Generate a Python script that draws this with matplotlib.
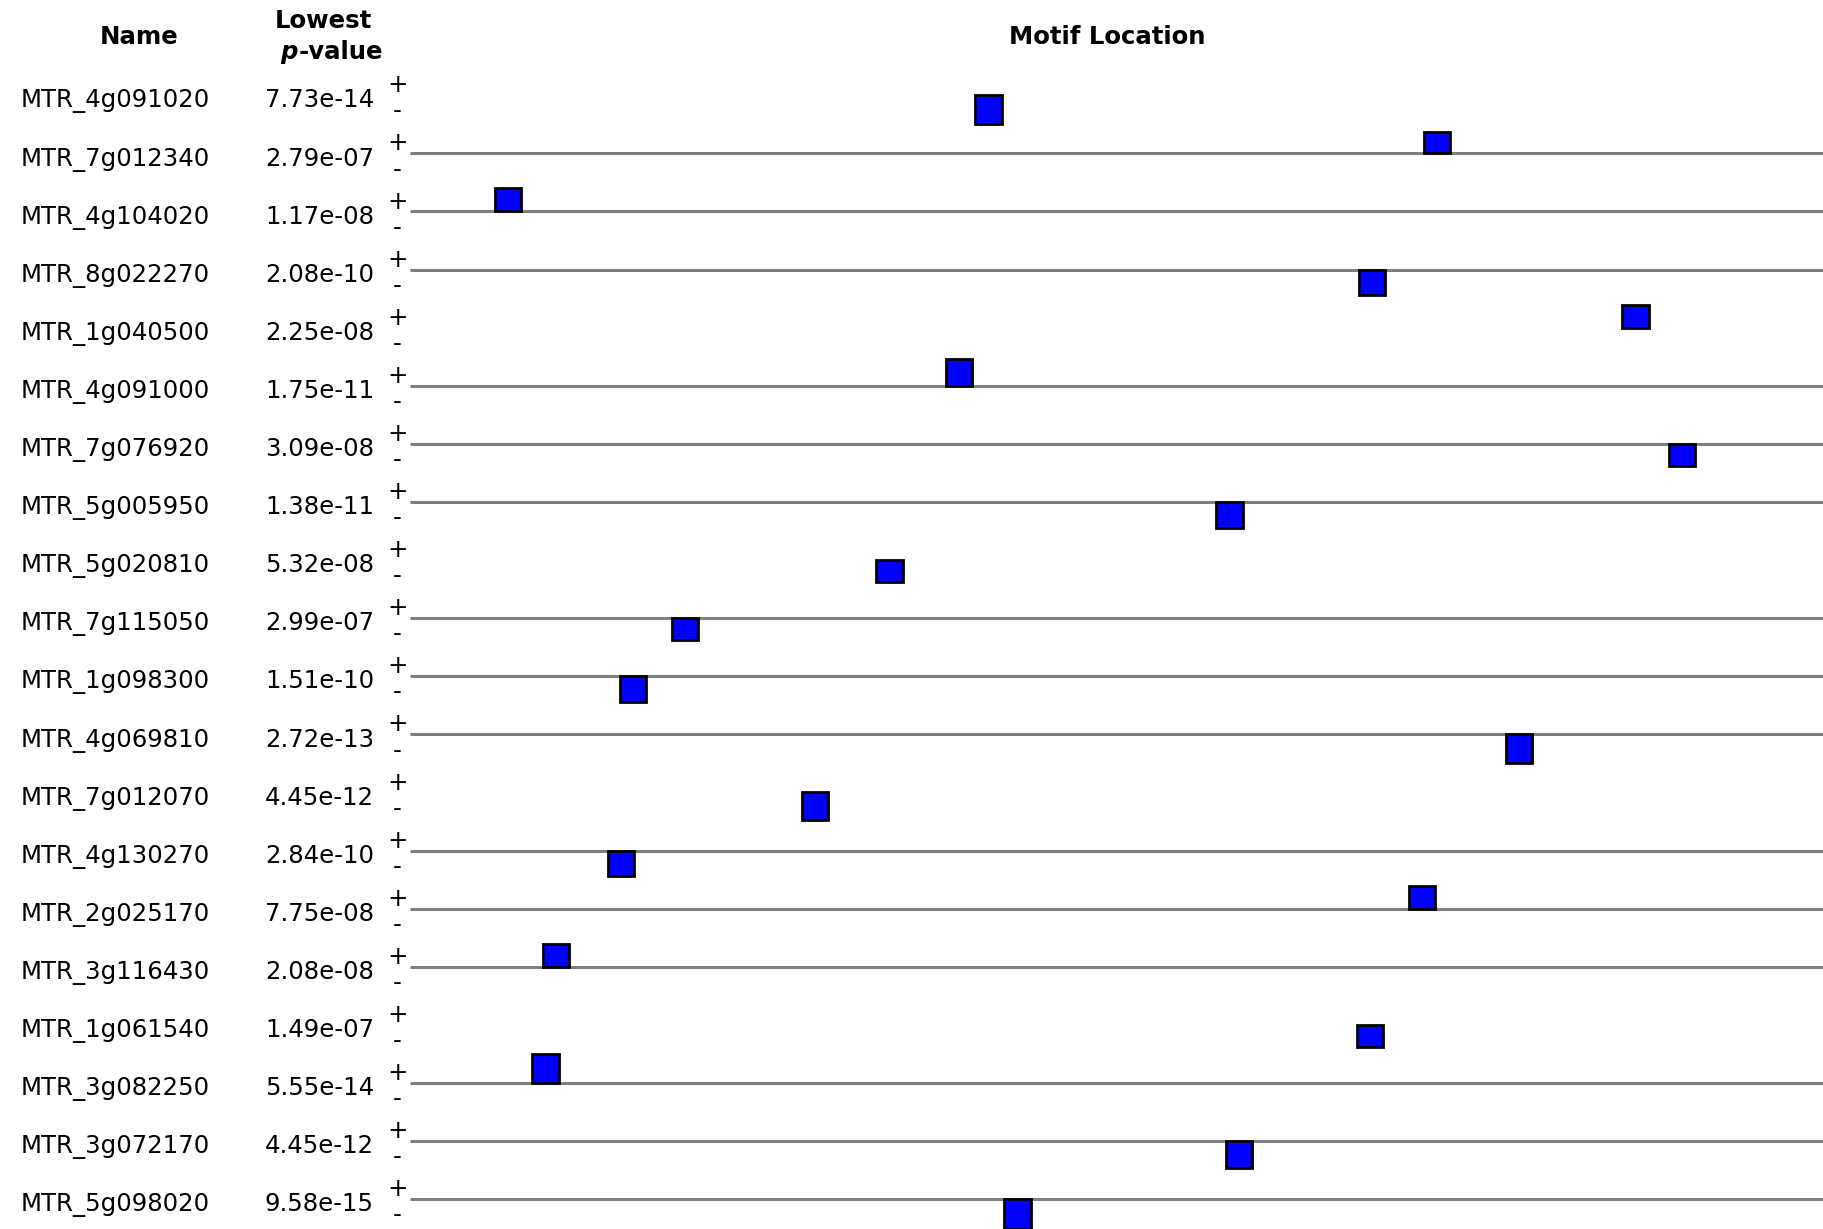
import numpy as np
import matplotlib.pyplot as plt
import matplotlib.transforms as mtransforms
from matplotlib.patches import Rectangle

# sequences, best site p-value, site start (bp) and strand
names = ['MTR_4g091020', 'MTR_7g012340', 'MTR_4g104020', 'MTR_8g022270', 'MTR_1g040500',
         'MTR_4g091000', 'MTR_7g076920', 'MTR_5g005950', 'MTR_5g020810', 'MTR_7g115050',
         'MTR_1g098300', 'MTR_4g069810', 'MTR_7g012070', 'MTR_4g130270', 'MTR_2g025170',
         'MTR_3g116430', 'MTR_1g061540', 'MTR_3g082250', 'MTR_3g072170', 'MTR_5g098020']
pvalues = [7.73e-14, 2.79e-07, 1.17e-08, 2.08e-10, 2.25e-08,
           1.75e-11, 3.09e-08, 1.38e-11, 5.32e-08, 2.99e-07,
           1.51e-10, 2.72e-13, 4.45e-12, 2.84e-10, 7.75e-08,
           2.08e-08, 1.49e-07, 5.55e-14, 4.45e-12, 9.58e-15]
site_start = [600, 1076, 90, 1007, 1287,
              569, 1336, 856, 495, 278,
              223, 1163, 416, 210, 1060,
              141, 1005, 130, 866, 631]
strand = ['-', '+', '+', '-', '+',
          '+', '-', '-', '-', '-',
          '-', '-', '-', '-', '+',
          '+', '-', '+', '-', '-']
seq_len = 1500
motif_len = 28

W, H = 1823, 1229
fig = plt.figure(figsize=(W / 100, H / 100), dpi=100)
fig.patch.set_facecolor('white')

row_px = 58.1
first_px = 95.2
x0 = 410 / W
ax = fig.add_axes([x0, 0, 1 - x0, 1])
ax.set_xlim(0, seq_len)
ax.set_ylim((H - first_px) / row_px, -first_px / row_px)
ax.axis('off')

fs = 17.6
trans = mtransforms.blended_transform_factory(fig.transFigure, ax.transData)

for i, name in enumerate(names):
    # table columns
    ax.text(21 / W, i + 0.21, name, transform=trans, ha='left', va='baseline',
            fontsize=fs, color='black')
    ax.text(374 / W, i + 0.21, f'{pvalues[i]:.2e}', transform=trans, ha='right',
            va='baseline', fontsize=fs, color='black')
    ax.text(397.5 / W, i - 0.17, '+', transform=trans, ha='center', va='center',
            fontsize=fs, color='black')
    ax.text(397.5 / W, i + 0.28, '-', transform=trans, ha='center', va='center',
            fontsize=fs, color='black')

    if i % 4 != 0:
        ax.plot([0, seq_len], [i, i], color='#808080', lw=2.2, zorder=1,
                solid_capstyle='butt')

    # block height scales with site significance
    h = 0.24 + 0.02 * (-np.log10(pvalues[i]))
    y = i - h if strand[i] == '+' else i
    ax.add_patch(Rectangle((site_start[i], y), motif_len, h, facecolor='#0000ff',
                           edgecolor='black', lw=2.0, zorder=3))

# headers
fig.text(139 / W, 1 - 37 / H, 'Name', ha='center', va='center', fontsize=fs,
         fontweight='bold')
fig.text(323 / W, 1 - 21 / H, 'Lowest', ha='center', va='center', fontsize=fs,
         fontweight='bold')
tp = fig.text(280 / W, 1 - 52 / H, 'p', ha='left', va='center', fontsize=fs,
              fontweight='bold', style='italic')
ax.annotate('-value', xy=(1, 0), xycoords=tp, xytext=(1, 0),
            textcoords='offset pixels', ha='left', va='bottom',
            fontsize=fs, fontweight='bold')
fig.text(1107 / W, 1 - 37 / H, 'Motif Location', ha='center', va='center',
         fontsize=fs, fontweight='bold')

fig.savefig('out.png', dpi=100, facecolor='white')
